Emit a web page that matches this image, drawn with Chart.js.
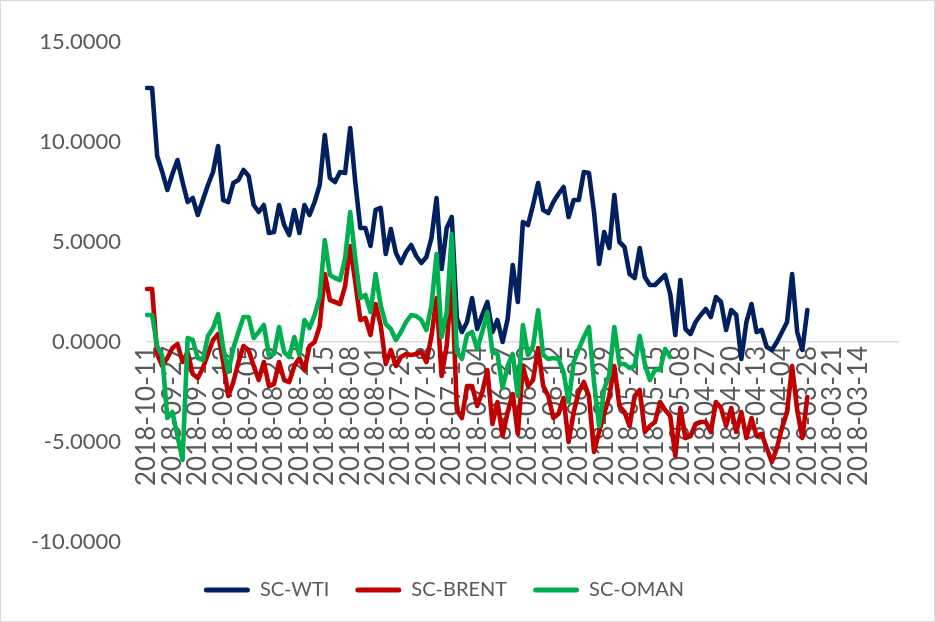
<!DOCTYPE html>
<html>
<head>
<meta charset="utf-8">
<script src="https://cdn.jsdelivr.net/npm/chart.js@4.4.0/dist/chart.umd.min.js"></script>
<style>
  html, body { margin: 0; padding: 0; background: #fff; }
  #wrap { width: 935px; height: 622px; box-sizing: border-box; border: 1px solid #d9d9d9; background: #fff; }
  canvas { display: block; }
</style>
</head>
<body>
<div id="wrap"><canvas id="spread-chart" width="933" height="620"></canvas></div>
<script>
// SC crude spreads, daily, newest first
const tickLabels = [
  '2018-10-11', '2018-09-27', '2018-09-19', '2018-09-12', '2018-09-05', '2018-08-29',
  '2018-08-22', '2018-08-15', '2018-08-08', '2018-08-01', '2018-07-25', '2018-07-18',
  '2018-07-11', '2018-07-04', '2018-06-27', '2018-06-20', '2018-06-12', '2018-06-05',
  '2018-05-29', '2018-05-22', '2018-05-15', '2018-05-08', '2018-04-27', '2018-04-20',
  '2018-04-13', '2018-04-04', '2018-03-28', '2018-03-21', '2018-03-14'
];
const CATEGORY_COUNT = 149;   // rows in the sheet, label every 5th
const LABEL_EVERY = 5;

const scWti = [
  12.7, 12.7, 9.3, 8.5, 7.6, 8.4, 9.1, 8.0, 7.0, 7.2,
  6.35, 7.1, 7.85, 8.5, 9.8, 7.1, 7.0, 7.95, 8.1, 8.6,
  8.3, 6.85, 6.5, 6.85, 5.45, 5.5, 6.85, 5.85, 5.35, 6.6,
  5.45, 6.85, 6.35, 7.0, 7.85, 10.35, 8.2, 8.0, 8.5, 8.45,
  10.7, 8.0, 5.7, 5.7, 4.8, 6.6, 6.7, 4.4, 5.65, 4.45,
  3.95, 4.5, 4.85, 4.3, 3.95, 4.25, 5.2, 7.2, 3.65, 5.7,
  6.25, 1.2, 0.5, 1.0, 2.2, 0.65, 1.35, 2.0, 0.5, 1.1,
  0.0, 1.15, 3.85, 2.0, 6.0, 5.85, 6.85, 7.95, 6.6, 6.45,
  7.0, 7.4, 7.75, 6.25, 7.1, 7.1, 8.5, 8.45, 6.5, 3.9,
  5.5, 4.7, 7.35, 5.0, 4.75, 3.4, 3.2, 4.7, 3.25, 2.85,
  2.85, 3.1, 3.35, 2.4, 0.35, 3.1, 0.65, 0.4, 1.0, 1.35,
  1.65, 1.25, 2.25, 2.0, 0.6, 1.6, 1.35, -0.85, 1.0, 1.9,
  0.5, 0.6, -0.25, -0.4, 0.0, 0.5, 1.0, 3.4, 0.5, -0.4,
  1.6
];

const scBrent = [
  2.65, 2.65, -0.6, -1.2, -0.8, -0.3, -0.1, -1.0, -0.5, -1.6,
  -1.8, -1.3, -0.6, 0.1, 0.4, -1.0, -2.7, -2.0, -1.0, -0.2,
  -0.4, -1.2, -1.9, -1.0, -2.2, -2.1, -1.0, -1.9, -2.0, -1.2,
  -0.8, -1.4, -0.2, 0.0, 0.8, 3.4, 2.1, 2.0, 1.9, 2.8,
  4.8, 3.0, 1.1, 1.2, 0.35, 1.9, 0.85, -1.1, -0.4, -1.2,
  -0.75, -0.6, -0.65, -0.6, -0.5, -1.0, 0.3, 2.2, -1.7, -0.2,
  3.2, -3.4, -3.8, -2.2, -2.2, -3.2, -2.5, -1.4, -4.1, -3.0,
  -4.7, -3.5, -2.6, -4.6, -1.2, -2.2, -1.9, -0.3, -2.2, -2.7,
  -3.8, -3.6, -2.8, -5.0, -3.5, -2.5, -2.0, -2.7, -5.5, -4.5,
  -3.6, -2.7, -1.2, -3.2, -3.5, -4.2, -2.7, -2.4, -4.5, -4.2,
  -4.0, -3.0, -3.4, -3.7, -5.7, -3.3, -4.8, -4.7, -4.1, -4.0,
  -4.0, -4.5, -3.0, -3.3, -4.2, -3.3, -4.5, -3.5, -4.8, -3.8,
  -4.7, -4.6, -5.3, -6.0, -5.3, -4.3, -3.5, -1.2, -3.4, -4.8,
  -2.75
];

const scOman = [
  1.35, 1.35, -0.2, -0.7, -3.8, -3.5, -4.7, -5.9, 0.2, 0.1,
  -0.8, -0.9, 0.3, 0.7, 1.4, -0.3, -1.5, -0.3, 0.5, 1.25,
  1.25, 0.2, 0.5, 0.85, -0.65, -0.6, 0.75, -0.5, -0.75, 0.25,
  -0.65, 1.1, 0.7, 1.35, 2.25, 5.1, 3.35, 3.2, 3.1, 4.2,
  6.5, 4.2, 2.2, 2.35, 1.5, 3.4, 1.85, 0.9, 0.65, 0.1,
  0.5, 1.0, 1.35, 1.3, 1.1, 0.6, 1.85, 4.4, 0.25, 1.5,
  5.4, -0.5, -0.85, 0.35, 0.5, -0.35, 0.5, 1.5, -0.5, -0.6,
  -2.3, -1.2, -0.6, -2.7, 0.85, -0.65, -0.2, 1.6, -0.65, -0.85,
  -0.8, -0.85, -1.5, -3.0, -1.0, -0.35, 0.25, 0.75, -2.0, -4.2,
  -2.35, -1.65, 0.75, -1.1, -1.1, -1.3, -1.2, 0.3, -1.1, -1.9,
  -1.4, -1.4, -0.35, -0.75
];

const categories = Array.from({ length: CATEGORY_COUNT }, (_, i) =>
  i % LABEL_EVERY === 0 ? (tickLabels[i / LABEL_EVERY] || '') : '');

const TEXT = '#595959';
const FONT = 'Lato, "Open Sans", sans-serif';
const LEGEND_SHIFT = -14; // legend sits a little left of centre in the original

function line(label, data, color, order) {
  return {
    label, data, order,
    borderColor: color,
    backgroundColor: color,
    borderWidth: 4.6,
    borderCapStyle: 'round',
    borderJoinStyle: 'round',
    pointRadius: 0,
    pointHoverRadius: 0,
    tension: 0,
    fill: false,
  };
}

const legendShift = {
  id: 'legendShift',
  afterLayout(chart) {
    if (!chart.legend) return;
    chart.legend.left += LEGEND_SHIFT;
    chart.legend.right += LEGEND_SHIFT;
  }
};

const ctx = document.getElementById('spread-chart').getContext('2d');
new Chart(ctx, {
  type: 'line',
  data: {
    labels: categories,
    datasets: [
      line('SC-WTI', scWti, '#002060', 2),
      line('SC-BRENT', scBrent, '#c00000', 1),
      line('SC-OMAN', scOman, '#00b050', 0),
    ]
  },
  plugins: [legendShift],
  options: {
    responsive: false,
    devicePixelRatio: 1,
    animation: false,
    layout: { padding: { top: 41, right: 19, bottom: 11, left: 0 } },
    plugins: {
      tooltip: { enabled: false },
      legend: {
        position: 'bottom',
        // empty title just opens a gap between plot and legend
        title: { display: true, text: '', padding: 0, font: { size: 10, lineHeight: 1.2 } },
        labels: {
          font: { family: FONT, size: 20 },
          color: TEXT,
          boxWidth: 46,
          boxHeight: 5,
          padding: 26,
          useBorderRadius: true,
          borderRadius: 2.5,
          generateLabels: chart => Chart.defaults.plugins.legend.labels.generateLabels(chart)
            .map(l => ({ ...l, lineWidth: 0 }))
            .sort((a, b) => a.datasetIndex - b.datasetIndex),
        }
      }
    },
    scales: {
      x: {
        type: 'category',
        position: { y: 0 },
        offset: false,
        afterFit: scale => { scale.height = 0; },
        grid: { display: false, drawTicks: false },
        border: { display: true, color: '#d9d9d9', width: 1.5 },
        ticks: {
          autoSkip: false,
          maxRotation: 90,
          minRotation: 90,
          padding: 4,
          color: TEXT,
          font: { family: FONT, size: 26 },
        }
      },
      y: {
        min: -10,
        max: 15,
        afterFit: scale => { scale.width = 146; },
        grid: { display: false, drawTicks: false },
        border: { display: false },
        ticks: {
          stepSize: 5,
          padding: 26,
          color: TEXT,
          font: { family: FONT, size: 22 },
          callback: v => v.toFixed(4),
        }
      }
    }
  }
});
</script>
</body>
</html>
